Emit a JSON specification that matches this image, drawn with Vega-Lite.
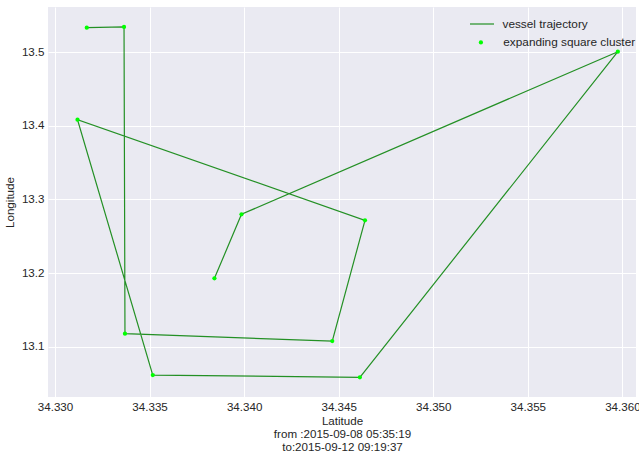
{
  "$schema": "https://vega.github.io/schema/vega-lite/v6.json",
  "width": 588,
  "height": 390,
  "autosize": "none",
  "padding": {"left": 48, "top": 7, "right": 3, "bottom": 56},
  "background": "white",
  "config": {
    "view": {"fill": "#EAEAF2", "stroke": null},
    "font": "Liberation Sans",
    "axis": {
      "domain": false,
      "ticks": false,
      "grid": true,
      "gridColor": "white",
      "gridWidth": 1,
      "labelFont": "Liberation Sans",
      "labelFontSize": 11.6,
      "labelColor": "#262626",
      "titleFont": "Liberation Sans",
      "titleFontSize": 11.6,
      "titleFontWeight": "normal",
      "titleColor": "#262626"
    },
    "legend": {
      "labelFont": "Liberation Sans",
      "labelFontSize": 11.8,
      "labelColor": "#262626",
      "padding": 0,
      "orient": "none"
    }
  },
  "datasets": {
    "track": [
      {"i": 1, "lat": 34.33843, "lon": 13.1929},
      {"i": 2, "lat": 34.33986, "lon": 13.2799},
      {"i": 3, "lat": 34.35976, "lon": 13.5008},
      {"i": 4, "lat": 34.34612, "lon": 13.0584},
      {"i": 5, "lat": 34.33517, "lon": 13.0615},
      {"i": 6, "lat": 34.33119, "lon": 13.4084},
      {"i": 7, "lat": 34.34639, "lon": 13.2717},
      {"i": 8, "lat": 34.34466, "lon": 13.1077},
      {"i": 9, "lat": 34.33370, "lon": 13.1177},
      {"i": 10, "lat": 34.33365, "lon": 13.5344},
      {"i": 11, "lat": 34.33168, "lon": 13.5334}
    ]
  },
  "data": {"name": "track"},
  "encoding": {
    "x": {
      "field": "lat", "type": "quantitative",
      "scale": {"domain": [34.32963, 34.36072], "nice": false, "zero": false},
      "axis": {
        "values": [34.330, 34.335, 34.340, 34.345, 34.350, 34.355, 34.360],
        "format": ".3f",
        "labelPadding": 4,
        "title": ["Latitude", "from :2015-09-08 05:35:19", "to:2015-09-12 09:19:37"],
        "titleLineHeight": 13.2,
        "titlePadding": 3
      }
    },
    "y": {
      "field": "lon", "type": "quantitative",
      "scale": {"domain": [13.0317, 13.5615], "nice": false, "zero": false},
      "axis": {
        "values": [13.1, 13.2, 13.3, 13.4, 13.5],
        "format": ".1f",
        "labelPadding": 4,
        "title": "Longitude",
        "titlePadding": 6
      }
    }
  },
  "layer": [
    {
      "mark": {"type": "line", "strokeWidth": 1.2, "opacity": 0.85},
      "encoding": {
        "order": {"field": "i", "type": "quantitative"},
        "stroke": {
          "datum": "vessel trajectory",
          "type": "nominal",
          "scale": {"domain": ["vessel trajectory"], "range": ["green"]},
          "legend": {
            "title": null,
            "orient": "none",
            "legendX": 421,
            "legendY": 4,
            "symbolType": "stroke",
            "symbolSize": 576,
            "symbolStrokeWidth": 1.2,
            "symbolOpacity": 0.85,
            "labelOffset": 7.5
          }
        }
      }
    },
    {
      "mark": {"type": "point", "filled": true, "size": 18, "opacity": 1},
      "encoding": {
        "fill": {
          "datum": "expanding square cluster",
          "type": "nominal",
          "scale": {"domain": ["expanding square cluster"], "range": ["lime"]},
          "legend": {
            "title": null,
            "orient": "none",
            "legendX": 427,
            "legendY": 29.5,
            "symbolType": "circle",
            "symbolSize": 18,
            "symbolStrokeWidth": 0,
            "symbolOpacity": 1,
            "labelOffset": 16.5
          }
        }
      }
    }
  ]
}
